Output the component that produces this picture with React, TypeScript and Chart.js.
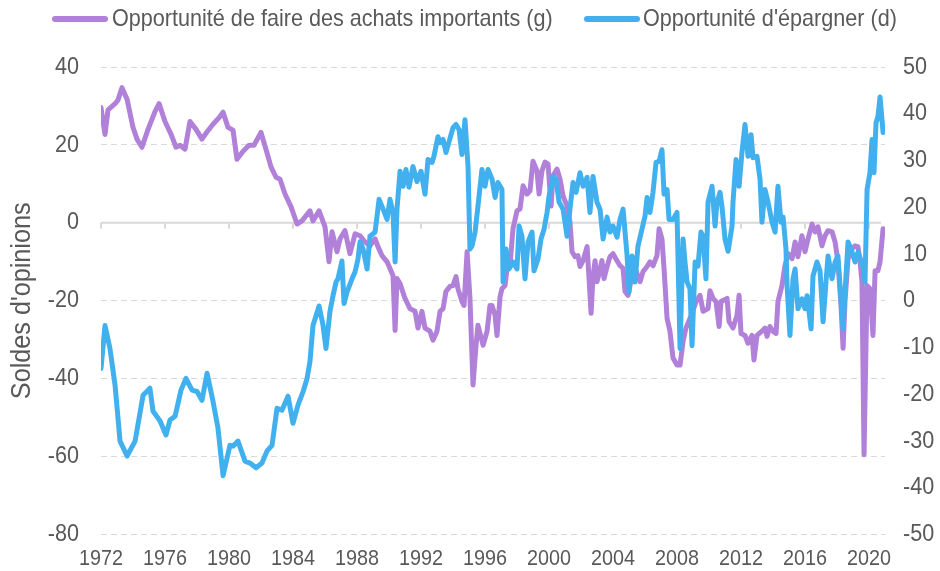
import React, { useEffect, useRef } from "react";
import { Chart, registerables } from "chart.js";

Chart.register(...registerables);

// Opportunité de faire des achats importants (g) — left axis
const achatsYears = [
  1972.0, 1972.25, 1972.44, 1972.88, 1973.06, 1973.31, 1973.63, 1974.0, 1974.25, 1974.56, 1974.94,
  1975.38, 1975.63, 1976.0, 1976.38, 1976.69, 1976.94, 1977.25, 1977.56, 1977.94, 1978.31, 1978.56,
  1979.0, 1979.38, 1979.63, 1979.94, 1980.25, 1980.5, 1980.88, 1981.25, 1981.56, 1982.0, 1982.31,
  1982.63, 1982.94, 1983.19, 1983.5, 1983.88, 1984.25, 1984.56, 1985.06, 1985.25, 1985.63, 1986.0,
  1986.25, 1986.44, 1986.75, 1986.94, 1987.25, 1987.56, 1987.88, 1988.19, 1988.5, 1988.81, 1989.13,
  1989.31, 1989.56, 1989.88, 1990.06, 1990.25, 1990.38, 1990.5, 1990.69, 1991.0, 1991.31, 1991.63,
  1991.81, 1992.06, 1992.25, 1992.56, 1992.75, 1993.0, 1993.19, 1993.38, 1993.56, 1993.81, 1994.0,
  1994.19, 1994.31, 1994.56, 1994.69, 1994.88, 1995.06, 1995.25, 1995.44, 1995.56, 1995.88, 1996.13,
  1996.31, 1996.44, 1996.63, 1996.75, 1996.94, 1997.06, 1997.25, 1997.38, 1997.56, 1997.75, 1998.0,
  1998.19, 1998.38, 1998.63, 1998.81, 1999.0, 1999.25, 1999.38, 1999.56, 1999.75, 1999.94, 2000.13,
  2000.25, 2000.5, 2000.69, 2000.88, 2001.13, 2001.31, 2001.44, 2001.63, 2001.81, 2001.94, 2002.13,
  2002.38, 2002.44, 2002.63, 2002.75, 2002.88, 2003.0, 2003.13, 2003.31, 2003.44, 2003.63, 2003.81,
  2004.0, 2004.25, 2004.44, 2004.63, 2004.75, 2004.94, 2005.19, 2005.38, 2005.69, 2005.88, 2006.13,
  2006.31, 2006.5, 2006.75, 2006.88, 2007.06, 2007.19, 2007.38, 2007.56, 2007.75, 2008.0, 2008.19,
  2008.38, 2008.56, 2008.88, 2009.19, 2009.44, 2009.63, 2009.94, 2010.06, 2010.25, 2010.44, 2010.63,
  2010.75, 2011.13, 2011.25, 2011.5, 2011.75, 2011.88, 2012.0, 2012.25, 2012.44, 2012.69, 2012.81,
  2013.0, 2013.31, 2013.5, 2013.63, 2013.81, 2014.0, 2014.19, 2014.31, 2014.56, 2014.75, 2014.94,
  2015.19, 2015.38, 2015.56, 2015.81, 2016.0, 2016.19, 2016.44, 2016.63, 2016.81, 2017.06, 2017.25,
  2017.44, 2017.69, 2017.88, 2018.06, 2018.25, 2018.38, 2018.5, 2018.69, 2018.94, 2019.13, 2019.31,
  2019.44, 2019.56, 2019.69, 2019.88, 2020.06, 2020.25, 2020.38, 2020.56, 2020.69, 2020.88,
];
const achatsValues = [
  29.6, 22.7, 29.0, 30.6, 31.5, 34.7, 31.7, 24.5, 21.5, 19.4, 24.0,
  28.6, 30.6, 26.0, 22.7, 19.4, 19.9, 18.9, 26.0, 24.0, 21.5, 23.0,
  25.3, 27.0, 28.4, 24.5, 23.8, 16.3, 18.4, 19.9, 19.9, 23.2, 18.9,
  14.3, 11.7, 11.2, 7.4, 4.1, -0.3, 0.5, 3.1, 0.5, 3.1, -1.0,
  -10.0, -2.3, -7.4, -4.1, -2.0, -7.9, -2.8, -3.3, -4.9, -5.9, -4.1,
  -6.1, -8.4, -10.0, -11.7, -13.5, -27.6, -14.3, -15.6, -19.4, -22.0, -22.7,
  -27.0, -22.7, -27.0, -27.8, -30.1, -27.8, -22.7, -22.0, -17.6, -16.3, -16.1,
  -13.8, -16.9, -20.2, -21.2, -7.4, -19.4, -41.6, -31.4, -26.3, -31.4, -27.8,
  -21.2, -21.2, -23.8, -28.9, -19.0, -16.9, -16.1, -11.7, -11.0, -1.5, 3.1,
  3.6, 9.5, 7.4, 8.2, 15.8, 13.3, 7.4, 13.3, 15.6, 15.1, 4.3,
  12.0, 13.8, 11.2, 6.9, 4.3, 0.3, -7.4, -8.7, -8.4, -11.2, -9.7,
  -6.1, -10.0, -23.2, -13.8, -9.7, -15.1, -13.0, -9.7, -14.3, -11.2, -8.7,
  -7.9, -9.7, -11.0, -11.7, -17.6, -18.6, -13.5, -11.7, -15.1, -12.5, -11.2,
  -10.0, -11.0, -8.4, -1.5, -4.1, -11.7, -24.5, -27.8, -34.7, -36.5, -36.5,
  -30.4, -27.0, -23.8, -20.2, -18.6, -22.7, -22.0, -17.4, -19.4, -20.2, -26.6,
  -20.2, -19.4, -25.3, -27.0, -23.8, -18.6, -28.4, -28.9, -30.9, -28.9, -35.2,
  -28.9, -27.8, -27.0, -29.1, -26.6, -27.8, -28.4, -20.2, -16.1, -11.0, -7.9,
  -9.2, -4.9, -8.7, -3.3, -7.4, -4.1, -0.3, -2.3, -1.0, -5.9, -3.3,
  -2.0, -2.3, -4.9, -10.0, -21.2, -32.2, -20.2, -9.2, -6.6, -5.9, -6.1,
  -10.0, -15.1, -59.5, -16.1, -16.9, -28.9, -12.3, -12.3, -10.0, -1.5,
];

// Opportunité d'épargner (d) — right axis
const epargneYears = [
  1972.0, 1972.25, 1972.56, 1972.88, 1973.19, 1973.63, 1974.13, 1974.63, 1975.06, 1975.25, 1975.69,
  1976.06, 1976.31, 1976.63, 1977.0, 1977.31, 1977.69, 1978.0, 1978.31, 1978.63, 1979.0, 1979.31,
  1979.63, 1980.06, 1980.25, 1980.56, 1981.0, 1981.31, 1981.69, 1982.06, 1982.38, 1982.69, 1983.0,
  1983.31, 1983.69, 1984.0, 1984.31, 1984.63, 1984.88, 1985.06, 1985.25, 1985.63, 1985.88, 1986.06,
  1986.31, 1986.5, 1986.69, 1986.81, 1987.06, 1987.19, 1987.38, 1987.69, 1987.88, 1988.06, 1988.19,
  1988.38, 1988.63, 1988.81, 1989.13, 1989.38, 1989.63, 1989.88, 1990.06, 1990.25, 1990.38, 1990.5,
  1990.69, 1990.88, 1991.06, 1991.25, 1991.5, 1991.75, 1992.0, 1992.25, 1992.44, 1992.69, 1992.81,
  1993.06, 1993.19, 1993.38, 1993.56, 1993.75, 1994.0, 1994.19, 1994.38, 1994.56, 1994.75, 1994.94,
  1995.06, 1995.19, 1995.38, 1995.56, 1995.81, 1996.0, 1996.19, 1996.44, 1996.63, 1996.81, 1997.06,
  1997.13, 1997.31, 1997.5, 1997.75, 1998.0, 1998.13, 1998.31, 1998.5, 1998.69, 1998.94, 1999.06,
  1999.31, 1999.5, 1999.69, 1999.88, 2000.0, 2000.25, 2000.44, 2000.63, 2000.88, 2001.13, 2001.31,
  2001.5, 2001.69, 2001.94, 2002.13, 2002.38, 2002.56, 2002.75, 2003.0, 2003.19, 2003.38, 2003.63,
  2003.81, 2004.0, 2004.25, 2004.44, 2004.63, 2004.88, 2005.0, 2005.19, 2005.38, 2005.56, 2005.81,
  2006.0, 2006.13, 2006.31, 2006.5, 2006.69, 2006.88, 2007.06, 2007.19, 2007.38, 2007.5, 2007.75,
  2008.0, 2008.19, 2008.38, 2008.5, 2008.63, 2008.81, 2008.94, 2009.13, 2009.31, 2009.5, 2009.63,
  2009.81, 2009.94, 2010.19, 2010.38, 2010.5, 2010.69, 2010.81, 2011.0, 2011.19, 2011.44, 2011.5,
  2011.69, 2011.88, 2012.06, 2012.25, 2012.44, 2012.63, 2012.75, 2013.0, 2013.19, 2013.31, 2013.5,
  2013.69, 2013.94, 2014.13, 2014.31, 2014.5, 2014.63, 2014.81, 2014.88, 2015.06, 2015.25, 2015.38,
  2015.56, 2015.81, 2016.0, 2016.13, 2016.38, 2016.5, 2016.75, 2016.94, 2017.13, 2017.31, 2017.44,
  2017.69, 2017.88, 2018.06, 2018.19, 2018.38, 2018.5, 2018.69, 2018.88, 2019.13, 2019.31, 2019.63,
  2019.75, 2019.88, 2020.06, 2020.19, 2020.31, 2020.44, 2020.56, 2020.69, 2020.88,
];
const epargneValues = [
  -14.5, -5.3, -10.2, -18.1, -30.0, -33.2, -30.0, -20.2, -18.7, -23.6, -25.7,
  -28.7, -25.5, -24.7, -19.1, -16.6, -19.1, -19.4, -21.3, -15.5, -21.5, -27.2,
  -37.4, -30.9, -31.1, -30.0, -34.3, -34.7, -35.7, -34.7, -32.1, -30.9, -23.0,
  -23.4, -20.4, -26.2, -22.3, -19.4, -16.6, -13.0, -5.3, -1.1, -5.3, -10.2,
  -2.3, 1.1, 4.0, 4.7, 8.5, -0.6, 1.9, 4.7, 6.2, 8.9, 12.6,
  11.1, 6.8, 13.8, 14.7, 21.7, 19.6, 17.4, 21.7, 18.9, 8.3, 19.6,
  27.7, 24.5, 28.1, 24.3, 28.7, 25.5, 27.7, 22.8, 30.2, 29.6, 30.9,
  35.1, 33.8, 34.5, 31.7, 34.0, 37.0, 37.7, 36.6, 31.3, 38.7, 28.7,
  11.1, 11.7, 14.7, 20.2, 28.1, 24.5, 28.1, 26.0, 22.1, 25.3, 23.8,
  4.0, 11.1, 6.8, 8.3, 6.8, 16.0, 13.8, 4.7, 12.6, 14.7, 6.4,
  8.9, 13.2, 15.3, 18.9, 22.3, 26.6, 26.0, 21.1, 19.6, 13.8, 19.6,
  25.3, 23.2, 27.4, 24.5, 26.4, 18.9, 26.6, 21.1, 19.6, 13.2, 17.9,
  14.7, 16.0, 13.6, 17.4, 19.6, 9.6, 1.9, 9.6, 4.0, 11.7, 15.3,
  18.1, 22.1, 18.9, 23.2, 29.6, 29.8, 32.3, 22.8, 23.8, 17.4, 17.4,
  18.9, -10.2, 13.2, 8.3, 4.0, 2.6, -9.6, 8.3, 7.4, 14.7, 13.8,
  4.7, 21.1, 24.5, 16.0, 21.1, 23.2, 20.2, 13.2, 10.6, 16.0, 21.1,
  30.2, 24.5, 31.7, 37.7, 30.9, 35.5, 30.6, 30.9, 26.0, 16.8, 23.8,
  21.1, 16.8, 14.7, 24.5, 16.8, 17.9, 11.1, 3.2, -7.4, 4.7, 6.8,
  -1.7, 0.4, -1.7, 1.1, -6.0, 5.3, 8.3, 6.4, -4.5, 4.0, 9.6,
  4.7, 8.3, 9.6, 3.2, -6.0, 1.9, 12.6, 11.1, 8.3, 10.4, 7.4,
  4.0, 23.8, 27.4, 34.5, 27.4, 38.1, 39.4, 43.6, 36.0,
];

const xTickYears = [1972, 1976, 1980, 1984, 1988, 1992, 1996, 2000, 2004, 2008, 2012, 2016, 2020];
const seriesLabels = ["Opportunité de faire des achats importants (g)", "Opportunité d'épargner (d)"];
const seriesColors = ["#B180D8", "#41B0EF"];

const FONT = "'Liberation Sans', Arial, sans-serif";
const TEXT = "#595959";
const GRID = "#d9d9d9";
const TEXT_SX = 0.9; // the reference type is slightly condensed

const zeroLinePlugin = {
  id: "zeroLine",
  beforeDatasetsDraw(chart: any) {
    const { ctx, chartArea, scales } = chart;
    const y = scales.y.getPixelForValue(0);
    ctx.save();
    ctx.strokeStyle = GRID;
    ctx.lineWidth = 2;
    ctx.beginPath();
    ctx.moveTo(chartArea.left, y);
    ctx.lineTo(chartArea.right - 4, y);
    xTickYears.forEach((yr) => {
      const x = scales.x.getPixelForValue(yr);
      ctx.moveTo(x, y);
      ctx.lineTo(x, y + 6);
    });
    ctx.stroke();
    ctx.restore();
  },
};

function condenseText(ctx: any) {
  if (ctx.__condensed) return;
  const orig = ctx.fillText.bind(ctx);
  ctx.fillText = (t: string, x: number, y: number, mw?: number) => {
    ctx.save();
    ctx.translate(x, y);
    ctx.scale(TEXT_SX, 1);
    if (mw !== undefined) orig(t, 0, 0, mw / TEXT_SX);
    else orig(t, 0, 0);
    ctx.restore();
  };
  ctx.__condensed = true;
}

export default function App() {
  const ref = useRef<HTMLCanvasElement>(null);
  useEffect(() => {
    if (!ref.current) return;
    const ctx2d = ref.current.getContext("2d");
    condenseText(ctx2d);
    const chart = new Chart(ref.current, {
      type: "line",
      data: {
        datasets: [
          {
            label: seriesLabels[0],
            data: achatsYears.map((x, i) => ({ x, y: achatsValues[i] })),
            borderColor: seriesColors[0],
            backgroundColor: seriesColors[0],
            borderWidth: 5,
            pointRadius: 0,
            tension: 0,
            borderJoinStyle: "round",
            borderCapStyle: "round",
            yAxisID: "y",
            order: 1,
          },
          {
            label: seriesLabels[1],
            data: epargneYears.map((x, i) => ({ x, y: epargneValues[i] })),
            borderColor: seriesColors[1],
            backgroundColor: seriesColors[1],
            borderWidth: 5,
            pointRadius: 0,
            tension: 0,
            borderJoinStyle: "round",
            borderCapStyle: "round",
            yAxisID: "y1",
            order: 0,
          },
        ],
      },
      options: {
        responsive: false,
        animation: false,
        devicePixelRatio: 1,
        layout: { padding: { top: 67, bottom: 0, left: 0, right: 0 } },
        plugins: { legend: { display: false }, tooltip: { enabled: false } },
        scales: {
          x: {
            type: "linear",
            min: 1972,
            max: 2021,
            grid: { display: false },
            border: { display: false },
            afterBuildTicks: (scale: any) => {
              scale.ticks = xTickYears.map((v) => ({ value: v }));
            },
            afterFit: (scale: any) => {
              scale.height = 34;
            },
            ticks: {
              autoSkip: false,
              maxRotation: 0,
              padding: 3,
              color: TEXT,
              font: { family: FONT, size: 22 },
              callback: (v: any) => String(v),
            },
          },
          y: {
            position: "left",
            min: -80,
            max: 40,
            afterFit: (scale: any) => {
              scale.width = 101;
            },
            ticks: { stepSize: 20, padding: 22, color: TEXT, font: { family: FONT, size: 24 } },
            grid: {
              drawTicks: false,
              color: (c: any) => (c.tick && c.tick.value === 0 ? "rgba(0,0,0,0)" : GRID),
              lineWidth: 1,
            },
            border: { display: false, dash: [6, 4] },
            title: {
              display: true,
              text: "Soldes d'opinions",
              color: TEXT,
              font: { family: FONT, size: 28 },
              padding: { top: 5, bottom: 0 },
            },
          },
          y1: {
            position: "right",
            min: -50,
            max: 50,
            afterFit: (scale: any) => {
              scale.width = 55;
            },
            ticks: { stepSize: 10, padding: 18, color: TEXT, font: { family: FONT, size: 24 } },
            grid: { display: false, drawTicks: false },
            border: { display: false },
          },
        },
      },
      plugins: [zeroLinePlugin],
    } as any);
    return () => chart.destroy();
  }, []);

  const legendText: React.CSSProperties = {
    position: "absolute",
    top: 4,
    fontFamily: FONT,
    fontSize: 24,
    color: TEXT,
    whiteSpace: "nowrap",
    lineHeight: "28px",
    transform: `scaleX(${TEXT_SX})`,
    transformOrigin: "0 0",
  };
  const legendLine = (left: number, width: number, color: string): React.CSSProperties => ({
    position: "absolute",
    left,
    top: 16,
    width,
    height: 6,
    borderRadius: 3,
    background: color,
  });

  return (
    <div style={{ position: "fixed", left: 0, top: 0, width: 940, height: 571, background: "#fff" }}>
      <canvas ref={ref} width={940} height={571} style={{ position: "absolute", left: 0, top: 0 }} />
      <div style={legendLine(52, 56, seriesColors[0])} />
      <div style={{ ...legendText, left: 112 }}>{seriesLabels[0]}</div>
      <div style={legendLine(584, 56, seriesColors[1])} />
      <div style={{ ...legendText, left: 643 }}>{seriesLabels[1]}</div>
    </div>
  );
}
